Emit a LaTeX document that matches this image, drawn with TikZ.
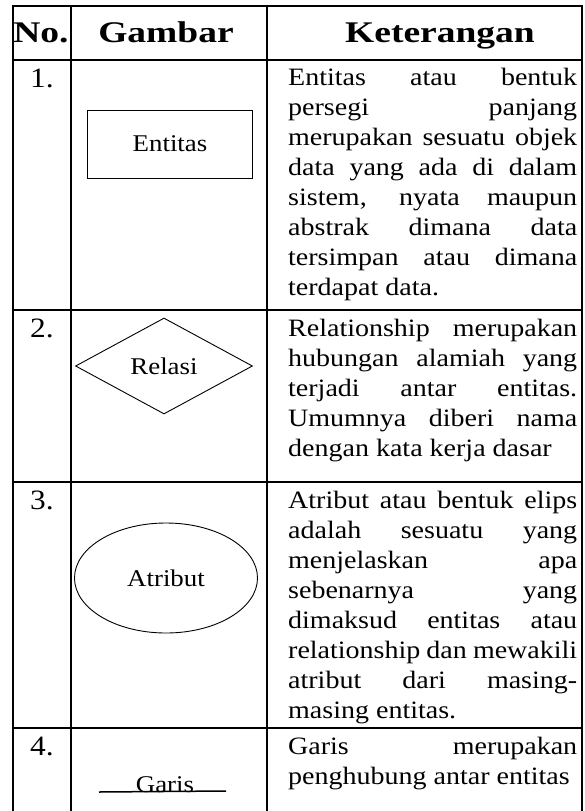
\documentclass[tikz,border=0pt]{standalone}
\usepackage{fontspec}
\setmainfont{Liberation Serif}[FakeStretch=1.12]
\newfontfamily\headfont{Liberation Serif}[FakeStretch=1.25]
\usetikzlibrary{shapes.geometric}
\newlength\ketw
\setlength\ketw{289pt}
\newcommand\jl[1]{\makebox[\ketw][s]{#1}}

\begin{document}
\begin{tikzpicture}[x=1pt, y=-1pt,
                rule/.style = {line width=1.5pt},
                head/.style = {font=\fontsize{30}{30}\selectfont\headfont\bfseries, anchor=base},
                num/.style = {font=\fontsize{28}{30}\selectfont, anchor=base},
                ket/.style = {font=\fontsize{25}{30}\selectfont, anchor=north west, inner sep=0pt, align=left},
                symb/.style = {draw, line width=0.9pt, inner sep=0pt, font=\fontsize{24}{30}\selectfont}
                ]
                \useasboundingbox (0,0) rectangle (584,811);
                \draw[rule] (13,811) -- (13,6) -- (582,6) -- (582,811);
                \draw[rule] (71,6) -- (71,811);
                \draw[rule] (267,6) -- (267,811);
                \foreach \y in {60,310,482,728}
                    \draw[rule] (13,\y) -- (582,\y);

                \node[head] (hno) at (41,42) {No.};
                \node[head] (hgambar) at (166,42) {Gambar};
                \node[head] (hket) at (440,42) {Keterangan};

                \node[num] (no1) at (42,87) {1.};
                \node[num] (no2) at (42,337) {2.};
                \node[num] (no3) at (42,509) {3.};
                \node[num] (no4) at (42,755) {4.};

                \node[symb, minimum width=165pt, minimum height=68pt] (entitas) at (170,144) {Entitas};
                \node[symb, diamond, aspect=1.8, minimum width=177pt, minimum height=96pt] (relasi) at (164,366) {Relasi};
                \node[symb, ellipse, minimum width=183pt, minimum height=110pt] (atribut) at (166,578) {Atribut};
                \node[font=\fontsize{24}{30}\selectfont, anchor=base] (garis) at (165,792) {Garis};
                \coordinate (garisA) at (99,792);
                \coordinate (garisB) at (226,791);
                \draw[line width=1.5pt] (garisA) -- (garisB);

                \node[ket] (ket1) at (288,64) {\strut\jl{Entitas atau bentuk}\\
                    \jl{persegi panjang}\\
                    \jl{merupakan sesuatu objek}\\
                    \jl{data yang ada di dalam}\\
                    \jl{sistem, nyata maupun}\\
                    \jl{abstrak dimana data}\\
                    \jl{tersimpan atau dimana}\\
                    terdapat data.};
                \node[ket] (ket2) at (288,315) {\strut\jl{Relationship merupakan}\\
                    \jl{hubungan alamiah yang}\\
                    \jl{terjadi antar entitas.}\\
                    \jl{Umumnya diberi nama}\\
                    dengan kata kerja dasar};
                \node[ket] (ket3) at (288,487) {\strut\jl{Atribut atau bentuk elips}\\
                    \jl{adalah sesuatu yang}\\
                    \jl{menjelaskan apa}\\
                    \jl{sebenarnya yang}\\
                    \jl{dimaksud entitas atau}\\
                    \jl{relationship dan mewakili}\\
                    \jl{atribut dari masing-}\\
                    masing entitas.};
                \node[ket] (ket4) at (288,733) {\strut\jl{Garis merupakan}\\
                    penghubung antar entitas};
            \end{tikzpicture}
\end{document}
